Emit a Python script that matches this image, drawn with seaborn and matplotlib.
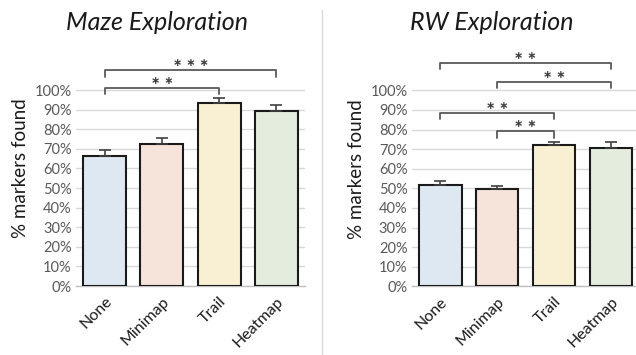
import pandas as pd
import numpy as np
import matplotlib.pyplot as plt
import seaborn as sns

sns.set_theme(style="white")
plt.rcParams['font.family'] = ['Lato', 'DejaVu Sans']

conditions = ['None', 'Minimap', 'Trail', 'Heatmap']
bar_colors = ['#dae8f5', '#fbe2d5', '#fff2cc', '#e2efda']

maze_means = [0.665, 0.726, 0.934, 0.891]
maze_err = [0.028, 0.031, 0.027, 0.031]
rw_means = [0.515, 0.495, 0.721, 0.706]
rw_err = [0.022, 0.019, 0.017, 0.032]

# significance brackets: (from, to, height, label)
maze_sig = [(0, 3, 1.10, '***'), (0, 2, 1.01, '**')]
rw_sig = [(0, 3, 1.14, '**'), (1, 3, 1.042, '**'), (0, 2, 0.885, '**'), (1, 2, 0.791, '**')]

W, H = 636, 355
fig = plt.figure(figsize=(W / 100, H / 100), dpi=100)


def draw_panel(ax, means, errs, sigs, title, title_x):
    df = pd.DataFrame({'Condition': conditions, 'Value': means})
    sns.barplot(data=df, x='Condition', y='Value', hue='Condition',
                palette=bar_colors, dodge=False, legend=False, width=0.75,
                edgecolor='#1a1a1a', linewidth=1.5, ax=ax, zorder=3)
    ax.errorbar(range(len(means)), means, yerr=[[0] * len(errs), errs],
                fmt='none', ecolor='#404040', elinewidth=1.2, capsize=4,
                capthick=1.2, zorder=4)
    ax.set_xlim(-0.5, 3.5)
    ax.set_ylim(0, 1.2)
    ax.set_yticks(np.arange(0, 1.01, 0.1))
    ax.set_yticklabels([f'{int(round(t * 100))}%' for t in np.arange(0, 1.01, 0.1)],
                       fontsize=10.5, color='#595959')
    ax.set_xticks(range(len(conditions)))
    ax.set_xticklabels(conditions, rotation=45, ha='right', rotation_mode='anchor',
                       fontsize=11.5, color='#1a1a1a')
    ax.tick_params(axis='y', length=0, pad=3)
    ax.tick_params(axis='x', length=0, pad=6)
    ax.grid(axis='y', color='#d9d9d9', linewidth=1, zorder=0)
    ax.set_axisbelow(True)
    for s in ['top', 'right', 'left']:
        ax.spines[s].set_visible(False)
    ax.spines['bottom'].set_color('#bfbfbf')
    ax.spines['bottom'].set_linewidth(1)
    ax.set_xlabel('')
    ax.set_ylabel('% markers found', fontsize=13.5, color='#1a1a1a', labelpad=4)
    fig.text(title_x / W, 1 - 22 / H, title, fontsize=18, style='italic',
             color='#1a1a1a', ha='center', va='center')
    for a, b, h, lab in sigs:
        ax.plot([a, a, b, b], [h - 0.032, h, h, h - 0.032], color='#595959',
                lw=1.3, clip_on=False, zorder=5)
        stars = ' '.join('\u2217' * len(lab))
        ax.text((a + b) / 2, h + 0.01, stars, ha='center', va='bottom',
                fontsize=8, color='#404040', clip_on=False,
                family='DejaVu Sans', fontweight='bold')


ax1 = fig.add_axes([76 / W, (H - 286) / H, 229 / W, 235.2 / H])
ax2 = fig.add_axes([411.7 / W, (H - 286.3) / H, 227.7 / W, 235.2 / H])
draw_panel(ax1, maze_means, maze_err, maze_sig, 'Maze Exploration', 157)
draw_panel(ax2, rw_means, rw_err, rw_sig, 'RW Exploration', 492)

fig.add_artist(plt.Line2D([322 / W, 322 / W], [0, 1 - 10 / H], color='#d9d9d9', lw=1))

fig.savefig('out.png', dpi=100, facecolor='white')
